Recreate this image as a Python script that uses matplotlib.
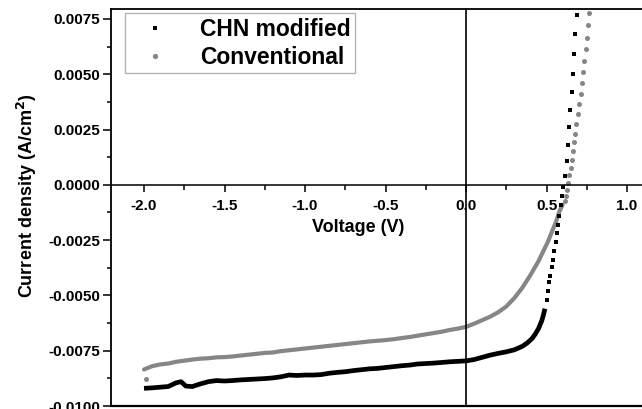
import matplotlib
matplotlib.use("Agg")
import matplotlib.pyplot as plt
from matplotlib.ticker import MultipleLocator, FormatStrFormatter
from matplotlib.lines import Line2D

plt.rcParams['font.family'] = ['Liberation Sans', 'DejaVu Sans']
plt.rcParams['font.weight'] = 'bold'
plt.rcParams['axes.unicode_minus'] = False

# ---- data ----
chn_v = [-2.00, -1.95, -1.90, -1.85, -1.80, -1.77, -1.74, -1.70, -1.65, -1.60,
         -1.55, -1.50, -1.45, -1.40, -1.35, -1.30, -1.25, -1.20, -1.15, -1.10,
         -1.05, -1.00, -0.95, -0.90, -0.85, -0.80, -0.75, -0.70, -0.65, -0.60,
         -0.55, -0.50, -0.45, -0.40, -0.35, -0.30, -0.25, -0.20, -0.15, -0.10,
         -0.05, 0.00, 0.05, 0.10, 0.15, 0.20, 0.25, 0.30, 0.35, 0.38,
         0.41, 0.43, 0.45, 0.47, 0.48, 0.49]
chn_j = [-0.00920, -0.00918, -0.00915, -0.00912, -0.00895, -0.00890, -0.00910, -0.00912, -0.00900, -0.00890,
         -0.00885, -0.00887, -0.00885, -0.00882, -0.00880, -0.00878, -0.00876, -0.00873, -0.00868, -0.00860,
         -0.00862, -0.00860, -0.00860, -0.00858, -0.00852, -0.00848, -0.00845, -0.00840, -0.00836, -0.00832,
         -0.00830, -0.00826, -0.00822, -0.00818, -0.00815, -0.00810, -0.00808, -0.00806, -0.00803, -0.00800,
         -0.00798, -0.00796, -0.00790, -0.00780, -0.00770, -0.00762, -0.00755, -0.00746, -0.00730, -0.00715,
         -0.00695, -0.00675, -0.00650, -0.00615, -0.00590, -0.00560]
chn_steep_v = [0.500, 0.508, 0.516, 0.524, 0.532, 0.540, 0.548, 0.556, 0.564, 0.572,
               0.580, 0.588, 0.596, 0.604, 0.615, 0.624, 0.631, 0.640, 0.648, 0.656,
               0.665, 0.671, 0.679, 0.688]
chn_steep_j = [-0.0052, -0.0048, -0.0044, -0.0041, -0.0037, -0.0034, -0.0030, -0.0026, -0.0022, -0.0018,
               -0.0014, -0.0009, -0.0005, -0.0001, 0.0004, 0.0011, 0.0018, 0.0026, 0.0034, 0.0042,
               0.0050, 0.0059, 0.0068, 0.0077]

conv_v = [-2.00, -1.95, -1.90, -1.85, -1.80, -1.75, -1.70, -1.65, -1.60, -1.55,
          -1.50, -1.45, -1.40, -1.35, -1.30, -1.25, -1.20, -1.15, -1.10, -1.05,
          -1.00, -0.95, -0.90, -0.85, -0.80, -0.75, -0.70, -0.65, -0.60, -0.55,
          -0.50, -0.45, -0.40, -0.35, -0.30, -0.25, -0.20, -0.15, -0.10, -0.05,
          0.00, 0.05, 0.10, 0.15, 0.20, 0.25, 0.30, 0.35, 0.40, 0.45,
          0.48, 0.51, 0.54, 0.56, 0.58, 0.60]
conv_j = [-0.00835, -0.00820, -0.00812, -0.00808, -0.00800, -0.00795, -0.00790, -0.00786, -0.00784, -0.00780,
          -0.00779, -0.00776, -0.00772, -0.00768, -0.00764, -0.00760, -0.00758, -0.00752, -0.00748, -0.00744,
          -0.00740, -0.00736, -0.00732, -0.00728, -0.00724, -0.00720, -0.00716, -0.00712, -0.00708, -0.00705,
          -0.00702, -0.00698, -0.00693, -0.00688, -0.00682, -0.00676, -0.00670, -0.00664, -0.00656, -0.00650,
          -0.00642, -0.00628, -0.00612, -0.00596, -0.00576, -0.00550, -0.00512, -0.00465, -0.00408, -0.00345,
          -0.00300, -0.00255, -0.00200, -0.00165, -0.00120, -0.00090]
conv_steep_v = [0.612, 0.621, 0.627, 0.636, 0.642, 0.650, 0.656, 0.665, 0.671, 0.679,
                0.685, 0.693, 0.702, 0.712, 0.720, 0.727, 0.735, 0.743, 0.752, 0.760, 0.766]
conv_steep_j = [-0.00072, -0.00050, -0.00023, 0.00010, 0.00044, 0.00075, 0.00111, 0.00152, 0.00193, 0.00230,
                0.00274, 0.00319, 0.00364, 0.00411, 0.00459, 0.00510, 0.00561, 0.00613, 0.00666, 0.00722, 0.00776]
conv_outlier_v = [-1.99]
conv_outlier_j = [-0.0088]

labels = ["CHN modified", "Conventional"]
x_ticks = [-2.0, -1.5, -1.0, -0.5, 0.0, 0.5, 1.0]

GRAY = '#868686'
W, H = 642, 409
fig = plt.figure(figsize=(W / 100, H / 100), dpi=100)
L, R, T, B = 111, 652, 9, 406
ax = fig.add_axes([L / W, 1 - B / H, (R - L) / W, (B - T) / H])

ax.set_xlim(-2.205, 1.155)
ax.set_ylim(-0.0100, 0.00795)

# series
ax.plot(conv_v, conv_j, color=GRAY, lw=3.0, solid_capstyle='round', zorder=2)
ax.plot(conv_steep_v, conv_steep_j, 'o', color=GRAY, ms=3.6, mew=0, zorder=2)
ax.plot(conv_outlier_v, conv_outlier_j, 'o', color=GRAY, ms=3.6, mew=0, zorder=2)
ax.plot(chn_v, chn_j, color='black', lw=3.4, solid_capstyle='butt', zorder=2.1)
ax.plot(chn_steep_v, chn_steep_j, 's', color='black', ms=3.0, mew=0, zorder=2.1)

# axes styling (Origin-like: x axis through y=0, frame around)
for s in ['left', 'top', 'right', 'bottom']:
    ax.spines[s].set_linewidth(1.3)
ax.spines['bottom'].set_position(('data', 0))
ax.spines['bottom'].set_linewidth(1.1)
ax.plot([0, 1], [0, 0], transform=ax.transAxes, color='black', lw=1.6, clip_on=False)
ax.axvline(0, color='black', lw=1.2, zorder=3)

ax.set_xticks(x_ticks)
ax.xaxis.set_minor_locator(MultipleLocator(0.25))
ax.xaxis.set_major_formatter(FormatStrFormatter('%.1f'))
ax.yaxis.set_major_locator(MultipleLocator(0.0025))
ax.yaxis.set_minor_locator(MultipleLocator(0.00125))
ax.yaxis.set_major_formatter(FormatStrFormatter('%.4f'))

ax.tick_params(axis='x', which='major', direction='out', length=5, width=1.1,
               labelsize=11, pad=5)
ax.tick_params(axis='x', which='minor', direction='out', length=3.5, width=1.1)
ax.tick_params(axis='y', which='major', direction='out', length=5.5, width=1.1,
               labelsize=11, pad=2.5)
ax.tick_params(axis='y', which='minor', direction='out', length=3, width=1.1)
for lab in ax.get_xticklabels() + ax.get_yticklabels():
    lab.set_fontweight('bold')

fig.text(358 / W, 1 - 228 / H, 'Voltage (V)', ha='center', va='center',
         fontsize=13, fontweight='bold')
fig.text(27 / W, 1 - 196 / H, 'Current density (A/cm$^\\mathbf{2}$)', ha='center', va='center',
         rotation=90, fontsize=13, fontweight='bold')

handles = [Line2D([], [], marker='s', ls='none', color='black', ms=3.5, mew=0),
           Line2D([], [], marker='o', ls='none', color=GRAY, ms=3.8, mew=0)]
leg = ax.legend(handles, labels, loc='upper left',
                bbox_to_anchor=(125 / W, 1 - 13 / H), bbox_transform=fig.transFigure,
                prop={'weight': 'bold', 'size': 16.5},
                frameon=True, fancybox=False, borderpad=0.2, borderaxespad=0,
                handlelength=2.2, handletextpad=0.87, labelspacing=0.22)
leg.get_frame().set_edgecolor('#a0a0a0')
leg.get_frame().set_linewidth(1.0)

fig.savefig('out.png', dpi=100)
